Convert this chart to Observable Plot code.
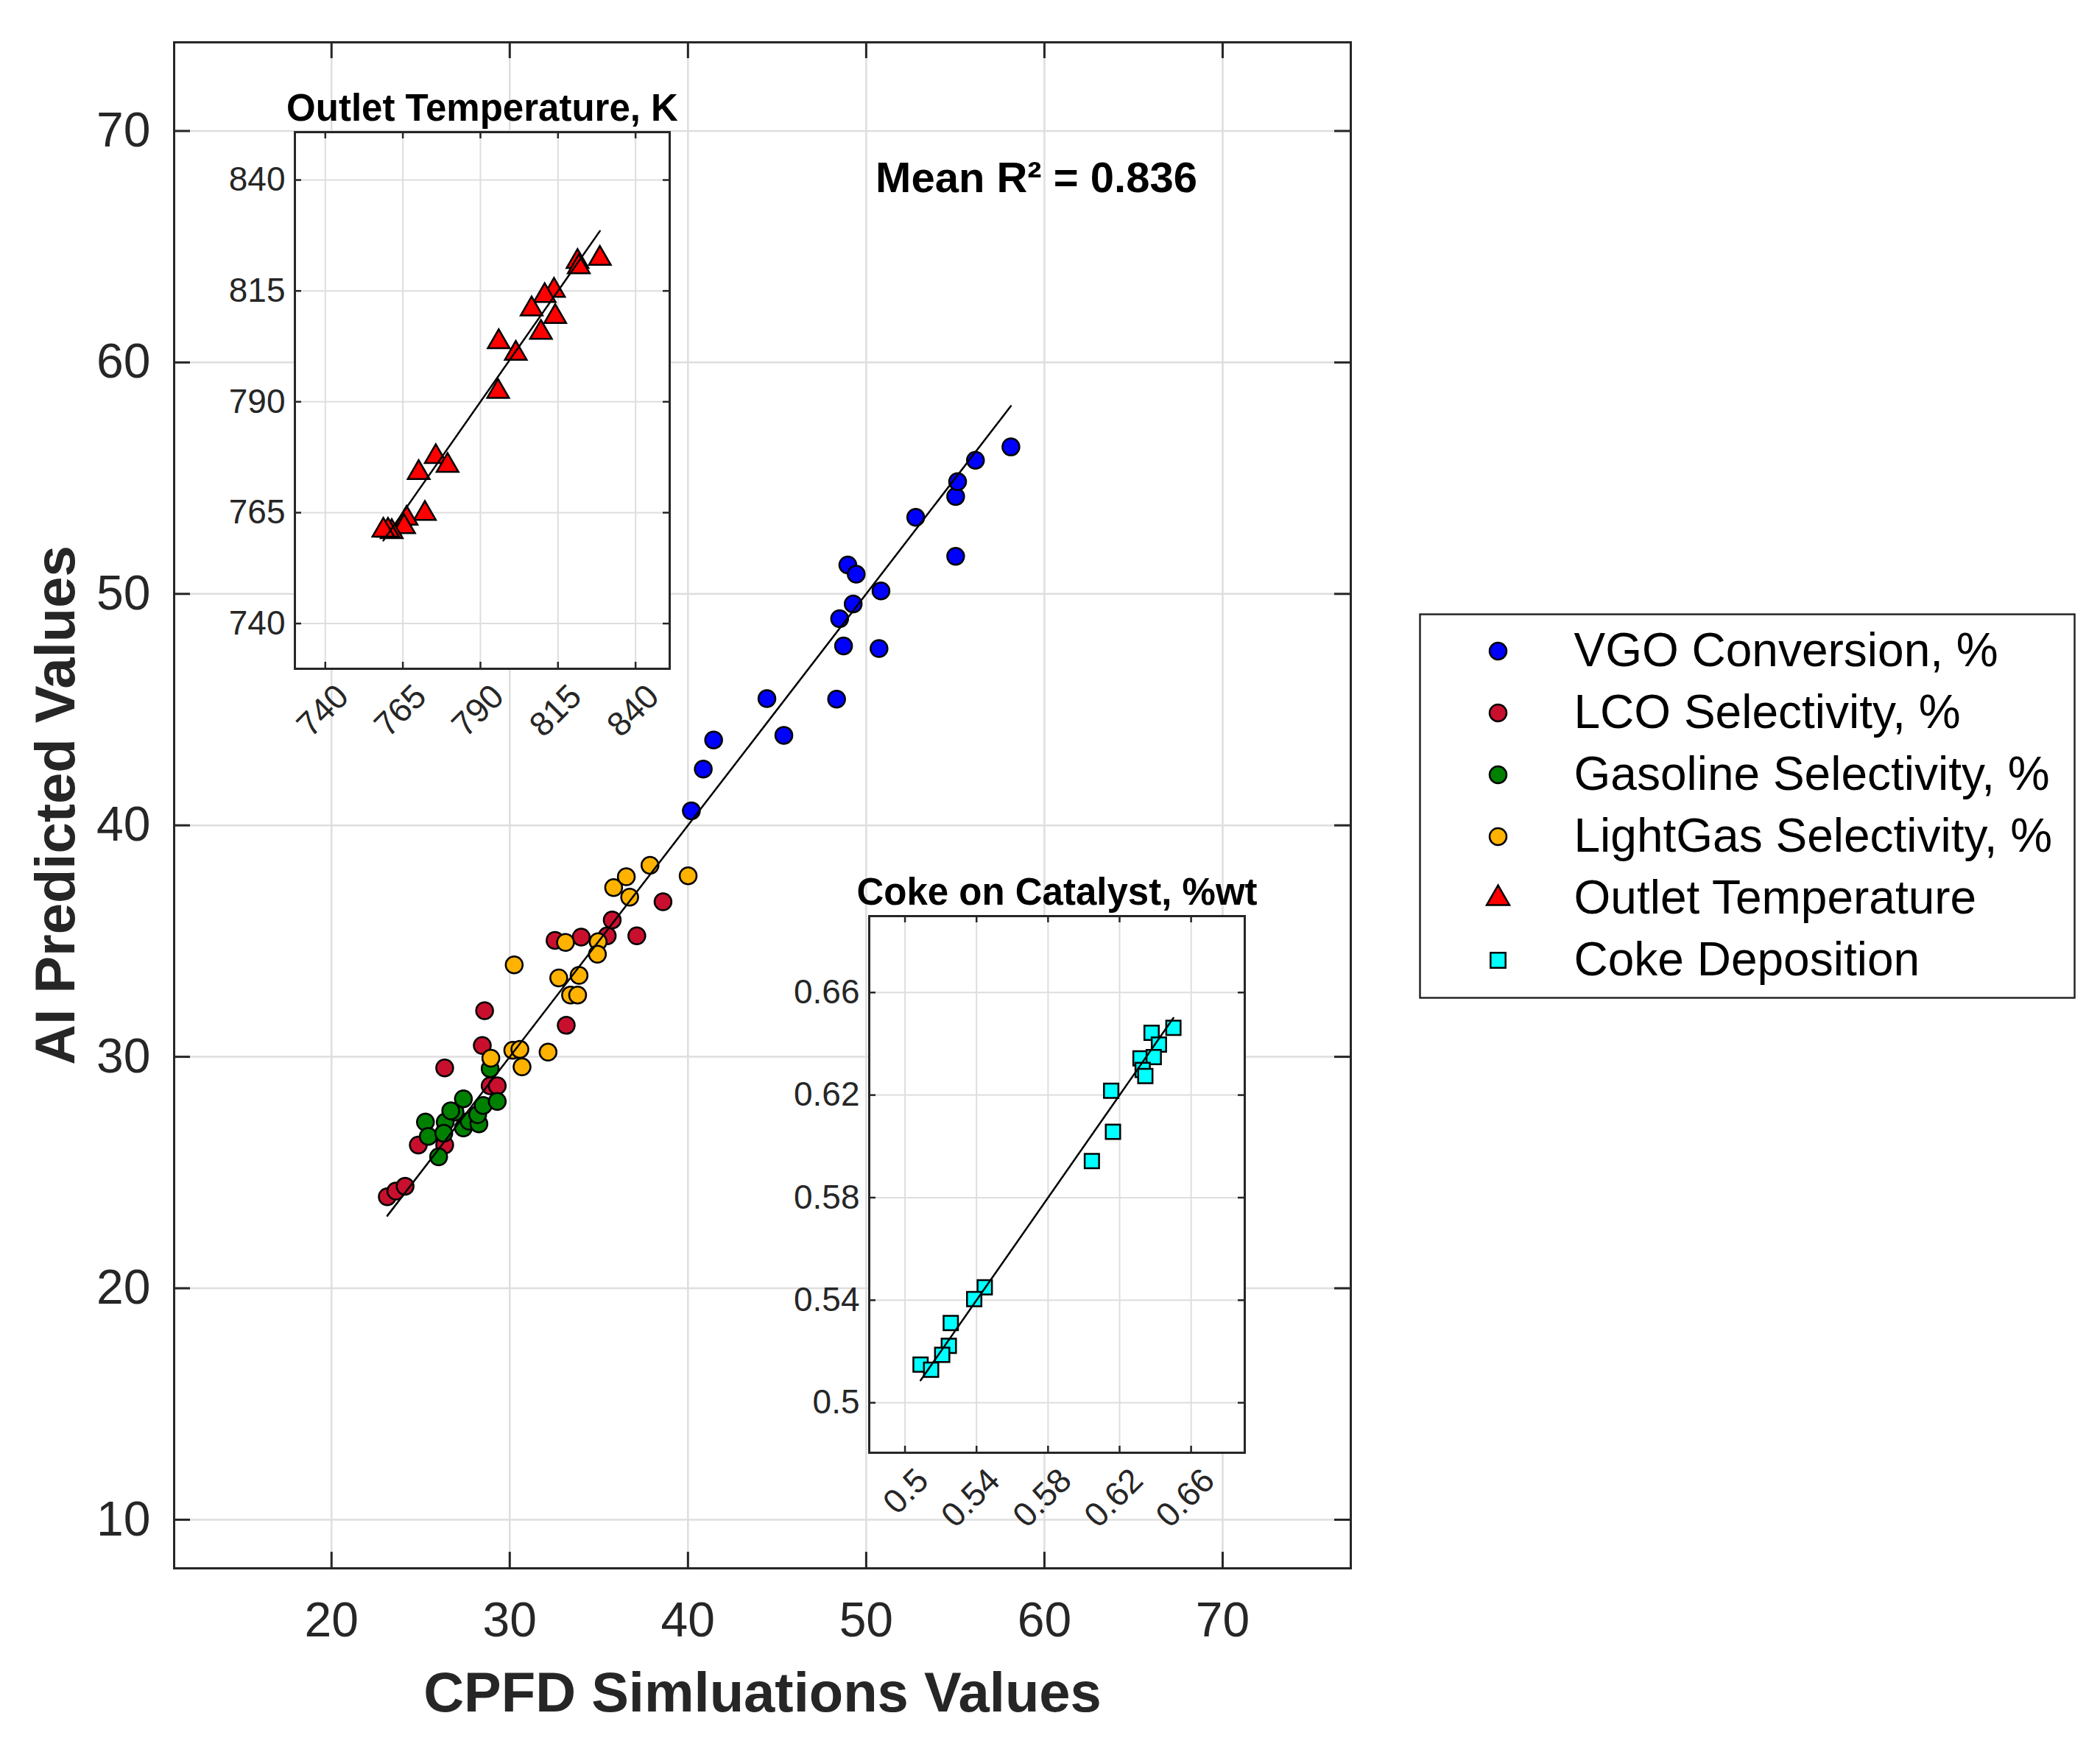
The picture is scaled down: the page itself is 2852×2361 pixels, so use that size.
<!DOCTYPE html>
<html>
<head>
<meta charset="utf-8">
<script src="https://cdn.jsdelivr.net/npm/d3@7"></script>
<script src="https://cdn.jsdelivr.net/npm/@observablehq/plot@0.6"></script>
<style>
  body { margin: 0; background: white; }
  #fig { position: relative; width: 2852px; height: 2361px; }
  #fig svg { position: absolute; max-width: none; }
</style>
</head>
<body>
<div id="fig"></div>
<script>
// main scatter: CPFD value (x) vs AI predicted value (y)
const vgoX = [40.19, 40.86, 41.44, 44.43, 45.38, 48.34, 48.73, 50.72, 48.51, 49.27, 50.83, 48.97, 49.44, 52.78, 55.02, 55.02, 55.13, 56.13, 58.12];
const vgoY = [40.63, 42.43, 43.69, 45.48, 43.89, 45.45, 47.75, 47.64, 48.93, 49.56, 50.13, 51.25, 50.85, 53.31, 51.62, 54.21, 54.85, 55.77, 56.35];
const lcoX = [23.13, 23.61, 24.13, 24.87, 26.35, 26.35, 28.46, 28.59, 28.9, 29.3, 32.54, 34.01, 35.47, 35.75, 37.13, 38.6, 33.17];
const lcoY = [23.95, 24.2, 24.41, 26.19, 26.19, 29.52, 30.49, 31.99, 28.75, 28.75, 35.03, 35.17, 35.23, 35.91, 35.23, 36.7, 31.36];
const gasX = [25.27, 25.43, 26.01, 26.38, 26.3, 26.93, 26.69, 27.4, 27.4, 27.72, 28.27, 28.2, 28.51, 29.3, 28.9];
const gasY = [27.18, 26.56, 25.68, 27.18, 26.7, 27.61, 27.67, 28.18, 26.93, 27.22, 27.1, 27.5, 27.9, 28.07, 29.49];
const lgX = [28.94, 30.25, 30.17, 30.57, 30.69, 32.15, 32.75, 33.89, 33.41, 33.81, 33.13, 34.96, 34.92, 35.83, 36.54, 36.73, 37.87, 40.01];
const lgY = [29.94, 33.97, 30.28, 30.32, 29.57, 30.2, 33.41, 33.52, 32.67, 32.67, 34.94, 34.97, 34.43, 37.31, 37.78, 36.9, 38.27, 37.82];

// inset: outlet temperature, K
const tempX = [828.5, 821.3, 821.7, 813.7, 810.7, 806.5, 814.1, 809.5, 795.9, 801.4, 795.7, 775.6, 779.4, 770.1, 772.1, 766.2, 765.4, 761.4, 760.2, 758.7];
const tempY = [822.3, 821.6, 820.4, 815.1, 813.9, 810.9, 809.2, 805.6, 803.5, 800.9, 792.3, 777.6, 775.6, 774.0, 764.8, 763.7, 761.8, 760.7, 761.0, 761.0];

// inset: coke on catalyst, %wt
const cokeX = [0.6501, 0.6379, 0.6420, 0.6317, 0.6391, 0.6329, 0.6344, 0.6153, 0.6163, 0.6045, 0.5446, 0.5387, 0.5256, 0.5245, 0.5208, 0.5087, 0.5146];
const cokeY = [0.6462, 0.6443, 0.6397, 0.6343, 0.6348, 0.6298, 0.6274, 0.6217, 0.6057, 0.5943, 0.5450, 0.5404, 0.5311, 0.5222, 0.5187, 0.5149, 0.5129];

const mainTicksX = [20, 30, 40, 50, 60, 70];
const mainTicksY = [10, 20, 30, 40, 50, 60, 70];
const tempTicks = [740, 765, 790, 815, 840];
const cokeTicks = [0.5, 0.54, 0.58, 0.62, 0.66];

const seriesNames = ["VGO Conversion, %", "LCO Selectivity, %", "Gasoline Selectivity, %", "LightGas Selectivity, %", "Outlet Temperature", "Coke Deposition"];
const seriesColors = ["#0000ff", "#c8102e", "#008000", "#ffb300", "#ff0000", "#00ffff"];
const seriesSymbols = ["circle", "circle", "circle", "circle", "triangle", "square"];
const meanR2 = 0.836;

const font = "'Liberation Sans', Arial, Helvetica, sans-serif";
const axisCol = "#262626";
const gridCol = "#dedede";
const fig = document.getElementById("fig");

// inward ticks on all four sides, given frame size in px
function boxTicks(tx, ty, w, h, len, sw) {
  return [
    Plot.ruleX(tx, {insetTop: h - len, stroke: axisCol, strokeWidth: sw}),
    Plot.ruleX(tx, {insetBottom: h - len, stroke: axisCol, strokeWidth: sw}),
    Plot.ruleY(ty, {insetRight: w - len, stroke: axisCol, strokeWidth: sw}),
    Plot.ruleY(ty, {insetLeft: w - len, stroke: axisCol, strokeWidth: sw})
  ];
}

function dots(xs, ys, color, symbol, r) {
  return Plot.dot(ys, {x: xs, y: ys, r, fill: color, symbol, stroke: "#000", strokeWidth: 2.5});
}

// ---------- main chart ----------
const M = {left: 236, top: 57, right: 1018, bottom: 231};
const mainW = 2852 - M.left - M.right, mainH = 2361 - M.top - M.bottom;
const mainFit = d3.extent([...vgoX, ...lcoX, ...gasX, ...lgX]);

const main = Plot.plot({
  width: 2852, height: 2361,
  marginLeft: M.left, marginTop: M.top, marginRight: M.right, marginBottom: M.bottom,
  x: {domain: [11.17, 77.19]},
  y: {domain: [7.9, 73.83]},
  style: {fontFamily: font, fontSize: "66px", color: axisCol, background: "white", left: "0px", top: "0px"},
  marks: [
    Plot.ruleX(mainTicksX, {stroke: gridCol, strokeWidth: 2.5}),
    Plot.ruleY(mainTicksY, {stroke: gridCol, strokeWidth: 2.5}),
    ...boxTicks(mainTicksX, mainTicksY, mainW, mainH, 22, 3),
    Plot.frame({stroke: axisCol, strokeWidth: 3}),
    Plot.axisX(mainTicksX, {tickSize: 0, tickPadding: 46, fontSize: 66, label: null}),
    Plot.axisY(mainTicksY, {tickSize: 0, tickPadding: 32, fontSize: 66, label: null}),
    dots(vgoX, vgoY, seriesColors[0], "circle", 11.5),
    dots(lcoX, lcoY, seriesColors[1], "circle", 11.5),
    dots(gasX, gasY, seriesColors[2], "circle", 11.5),
    dots(lgX, lgY, seriesColors[3], "circle", 11.5),
    Plot.line(mainFit, {x: d => d, y: d => d, stroke: "#000", strokeWidth: 2.5}),
    Plot.text(["CPFD Simluations Values"], {frameAnchor: "bottom", dy: 170, textAnchor: "middle", lineAnchor: "middle",
      fontSize: 76, fontWeight: "bold", fill: axisCol}),
    Plot.text(["AI Predicted Values"], {frameAnchor: "left", dx: -160, rotate: -90, textAnchor: "middle", lineAnchor: "middle",
      fontSize: 76, fontWeight: "bold", fill: axisCol}),
    Plot.text([`Mean R\u00b2 = ${meanR2}`], {frameAnchor: "top-left", dx: 1171, dy: 185,
      textAnchor: "middle", lineAnchor: "middle", fontSize: 58, fontWeight: "bold", fill: "#000"})
  ]
});
fig.appendChild(main);

// ---------- insets ----------
function inset({xs, ys, ticks, xDomain, yDomain, title, box, color, symbol, r}) {
  const w = box.width - box.ml - box.mr, h = box.height - box.mt - box.mb;
  const fit = d3.extent(xs);
  return Plot.plot({
    width: box.width, height: box.height,
    marginLeft: box.ml, marginRight: box.mr, marginTop: box.mt, marginBottom: box.mb,
    x: {domain: xDomain, axis: null},
    y: {domain: yDomain},
    style: {fontFamily: font, fontSize: "46px", color: axisCol, background: "transparent",
      left: box.left + "px", top: box.top + "px"},
    marks: [
      Plot.frame({fill: "white"}),
      Plot.ruleX(ticks, {stroke: gridCol, strokeWidth: 2}),
      Plot.ruleY(ticks, {stroke: gridCol, strokeWidth: 2}),
      ...boxTicks(ticks, ticks, w, h, 9, 2.5),
      Plot.frame({stroke: axisCol, strokeWidth: 3}),
      Plot.axisY(ticks, {tickSize: 0, tickPadding: 13, fontSize: 46, label: null, tickFormat: d => String(d)}),
      Plot.text(ticks, {x: d => d, text: d => String(d), frameAnchor: "bottom", rotate: -45,
        textAnchor: "end", lineAnchor: "middle", dx: 24, dy: 30, fontSize: 46, fill: axisCol}),
      dots(xs, ys, color, symbol, r),
      Plot.line(fit, {x: d => d, y: d => d, stroke: "#000", strokeWidth: 2.5}),
      Plot.text([title], {frameAnchor: "top", dy: -16, textAnchor: "middle", lineAnchor: "bottom",
        fontSize: 51, fontWeight: "bold", fill: "#000"})
    ]
  });
}

fig.appendChild(inset({
  xs: tempX, ys: tempY, ticks: tempTicks, xDomain: [730.2, 851], yDomain: [729.8, 850.8],
  title: "Outlet Temperature, K", color: seriesColors[4], symbol: "triangle", r: 11,
  box: {left: 300, top: 100, width: 660, height: 960, ml: 100, mr: 51, mt: 79, mb: 152}
}));

fig.appendChild(inset({
  xs: cokeX, ys: cokeY, ticks: cokeTicks, xDomain: [0.48, 0.69], yDomain: [0.4805, 0.6898],
  title: "Coke on Catalyst, %wt", color: seriesColors[5], symbol: "square", r: 11,
  box: {left: 1060, top: 1160, width: 680, height: 970, ml: 120, mr: 50, mt: 84, mb: 157}
}));

// ---------- legend ----------
const legendItems = seriesNames.map((name, i) => ({name, fill: seriesColors[i], symbol: seriesSymbols[i]}));
const legend = Plot.plot({
  width: 893, height: 525,
  margin: 2,
  y: {type: "point", domain: seriesNames, range: [52, 472], padding: 0, axis: null},
  color: {type: "identity"},
  symbol: {type: "identity"},
  style: {fontFamily: font, fontSize: "64px", background: "white", left: "1926px", top: "832px"},
  marks: [
    Plot.frame({stroke: axisCol, strokeWidth: 2.5, fill: "white"}),
    Plot.dot(legendItems, {y: "name", frameAnchor: "left", dx: 106, r: 11.5,
      fill: "fill", symbol: "symbol", stroke: "#000", strokeWidth: 2.5}),
    Plot.text(legendItems, {y: "name", text: "name", frameAnchor: "left", dx: 209,
      textAnchor: "start", lineAnchor: "middle", fontSize: 64, fill: "#000"})
  ]
});
fig.appendChild(legend);
</script>
</body>
</html>
